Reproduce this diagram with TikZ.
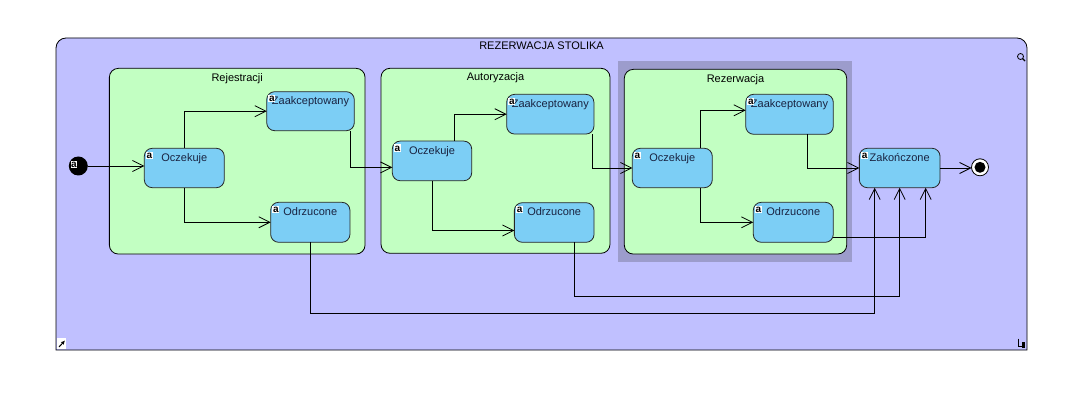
\documentclass[tikz,border=0pt]{standalone}
\usepackage{fontspec}
\setmainfont{Liberation Sans}
\usetikzlibrary{arrows.meta,calc}
\definecolor{framefill}{RGB}{192,192,255}
\definecolor{compfill}{RGB}{194,255,194}
\definecolor{statefill}{RGB}{124,206,245}
\definecolor{hlfill}{RGB}{156,156,204}
\definecolor{labelcol}{RGB}{25,35,65}
\begin{document}
\begin{tikzpicture}[x=1pt,y=-1pt,
  every node/.style={font=\fontsize{11}{13}\selectfont},
  comp/.style={draw=black, line width=0.8pt, fill=compfill, rounded corners=9pt, inner sep=0pt, outer sep=0pt},
  st/.style={draw=black!85, line width=0.8pt, fill=statefill, rounded corners=8pt, inner sep=0pt, outer sep=0pt},
  stlbl/.style={anchor=north, inner sep=0pt, yshift=-5pt, text=labelcol},
  complbl/.style={anchor=north, inner sep=0pt, yshift=-4.5pt, text=black},
  icon/.style={fill=white, inner sep=0.7pt, font=\bfseries\fontsize{10}{10}\selectfont, text height=6pt, text depth=0pt},
  conn/.style={line width=0.8pt, -{Straight Barb[length=11pt,width=11pt]}}
]
% background / bounding box
\fill[white] (0,0) rectangle (1089,406);
\useasboundingbox (0,0) rectangle (1089,406);

% outer frame
\draw[fill=framefill, line width=0.8pt] (56,350) [rounded corners=10pt] -- (56,38) -- (1027,38) [sharp corners] -- (1027,350) -- cycle;
\node (title) at (541.5,46) {REZERWACJA STOLIKA};

% highlight around Rezerwacja
\fill[hlfill] (618.3,61) rectangle (851.7,261.7);

% composite states
\node[comp, minimum width=255.7pt, minimum height=185.7pt, label={[complbl]north:Rejestracji}] (reg) at (237.2,161.2) {};
\node[comp, minimum width=229pt, minimum height=185pt, label={[complbl]north:Autoryzacja}] (aut) at (495.5,160.8) {};
\node[comp, minimum width=222.4pt, minimum height=184.7pt, label={[complbl]north:Rezerwacja}] (rez) at (735.5,161.7) {};

% simple states
\node[st, minimum width=80pt, minimum height=39.4pt, label={[stlbl]north:Oczekuje}] (oc1) at (184.3,168) {};
\node[st, minimum width=87.6pt, minimum height=39pt, label={[stlbl]north:Zaakceptowany}] (za1) at (310.5,111.2) {};
\node[st, minimum width=79.3pt, minimum height=40pt, label={[stlbl]north:Odrzucone}] (od1) at (310.3,222.3) {};

\node[st, minimum width=79.4pt, minimum height=39.7pt, label={[stlbl]north:Oczekuje}] (oc2) at (432,160.9) {};
\node[st, minimum width=87.3pt, minimum height=39.7pt, label={[stlbl]north:Zaakceptowany}] (za2) at (550.3,114.2) {};
\node[st, minimum width=79.7pt, minimum height=39.6pt, label={[stlbl]north:Odrzucone}] (od2) at (554.2,222.5) {};

\node[st, minimum width=80pt, minimum height=39.4pt, label={[stlbl]north:Oczekuje}] (oc3) at (672.3,168) {};
\node[st, minimum width=87.6pt, minimum height=40pt, label={[stlbl]north:Zaakceptowany}] (za3) at (789.5,114.3) {};
\node[st, minimum width=80pt, minimum height=40pt, label={[stlbl]north:Odrzucone}] (od3) at (793.3,222.3) {};

\node[st, minimum width=80.7pt, minimum height=39.4pt, label={[stlbl]north:Zakończone}] (zak) at (899.7,168) {};

% initial and final states
\node[circle, fill=black, minimum size=19pt, inner sep=0pt, outer sep=0pt] (init) at (78.3,166) {};
\node[circle, draw=black, line width=0.8pt, fill=white, minimum size=17pt, inner sep=0pt, outer sep=0pt] (fin) at (980,167.3) {};
\node[circle, fill=black, minimum size=11pt, inner sep=0pt] (fincore) at (fin.center) {};

% connectors
\draw[conn] (init.east) -- (init.east -| oc1.west);
\draw[conn] (oc1.north) |- (za1.west);
\draw[conn] (oc1.south) |- (od1.west);
\draw[conn] ($(za1.south east)+(-4,0)$) |- ($(oc2.west)+(0,6.5)$);
\draw[conn] ([xshift=22pt]oc2.north) |- (za2.west);
\draw[conn] (oc2.south) |- ($(od2.west)+(0,8)$);
\draw[conn] ($(za2.south east)+(-1.5,0)$) |- (oc3.west);
\draw[conn] ([xshift=28.5pt]oc3.north) |- ($(za3.west)+(0,-4)$);
\draw[conn] ([xshift=28.5pt]oc3.south) |- (od3.west);
\draw[conn] ([xshift=18pt]za3.south) |- (zak.west);
\draw[conn] (zak.east) -- (zak.east -| fin.west);
\draw[conn] ($(od3.east)+(0,15)$) -| ([xshift=26pt]zak.south);
\coordinate (b2) at ($(zak.south)+(0,108.3)$);
\coordinate (b1) at ($(zak.south)+(-25,125.3)$);
\draw[conn] ([xshift=20pt]od2.south) |- (b2) -- (zak.south);
\draw[conn] (od1.south) |- (b1) -- (b1 |- zak.south);

% "a" icons
\node[icon] (i0) at (74,164.5) {a};
\foreach \n in {oc1,za1,od1,oc2,za2,od2,oc3,za3,od3,zak}{
  \node[icon] (i\n) at ($(\n.north west)+(5.2,7)$) {a};
}

% corner icons
\draw[line width=0.8pt] (1020.5,56.5) circle (3pt);
\draw[line width=1.1pt] (1022.6,58.6) -- (1025,61);
\fill[white] (56.5,338) rectangle (66,349);
\draw[line width=1pt, -{Latex[length=4pt,width=4pt]}] (59,347) -- (65,340.5);
\draw[line width=0.8pt] (1018,338.5) -- (1018,346) -- (1022,346);
\fill[black] (1021.5,342) rectangle (1025,348);
\end{tikzpicture}
\end{document}
